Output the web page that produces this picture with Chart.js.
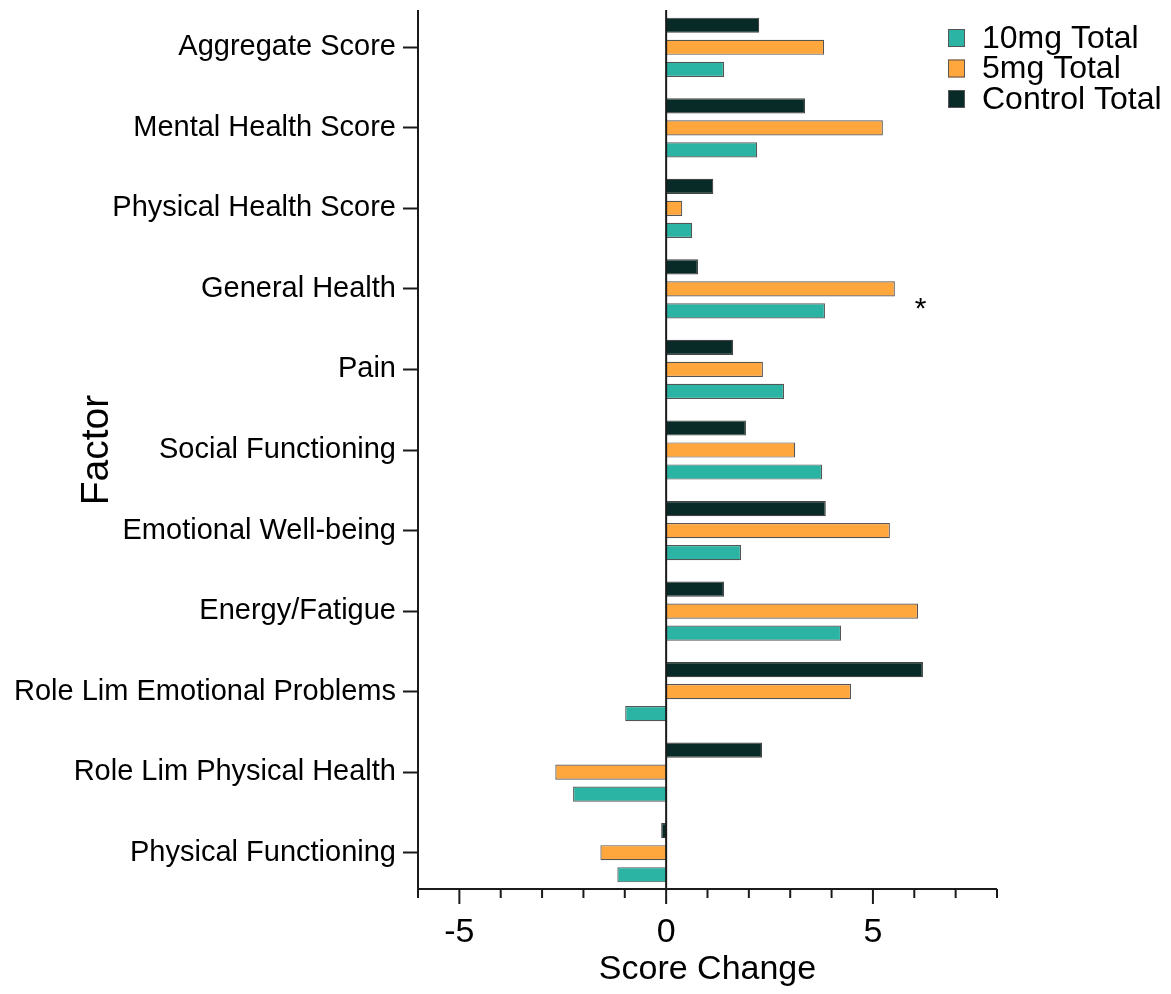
<!DOCTYPE html>
<html>
<head>
<meta charset="utf-8">
<script src="https://cdn.jsdelivr.net/npm/chart.js@4"></script>
<style>
  html, body { margin: 0; padding: 0; background: #fff; }
  #wrap { width: 1171px; height: 994px; }
</style>
</head>
<body>
<div id="wrap"><canvas id="myChart"></canvas></div>
<script>
const factors = ['Aggregate Score', 'Mental Health Score', 'Physical Health Score', 'General Health', 'Pain',
  'Social Functioning', 'Emotional Well-being', 'Energy/Fatigue', 'Role Lim Emotional Problems',
  'Role Lim Physical Health', 'Physical Functioning'];
const controlTotal = [2.25, 3.36, 1.14, 0.77, 1.62, 1.93, 3.86, 1.40, 6.21, 2.32, -0.12];
const total5mg = [3.82, 5.24, 0.39, 5.53, 2.34, 3.12, 5.41, 6.09, 4.47, -2.68, -1.59];
const total10mg = [1.40, 2.20, 0.63, 3.84, 2.85, 3.77, 1.81, 4.23, -0.99, -2.25, -1.18];
const xTickLabels = [-5, 0, 5];
const starFactor = 'General Health';
const starValue = 6.15;

const font = 'Liberation Sans, Arial, sans-serif';

// axis lines, ticks, zero line, legend and the asterisk
const extras = {
  id: 'extras',
  afterDraw(chart) {
    const ctx = chart.ctx;
    const x = chart.scales.x, y = chart.scales.y;
    const area = chart.chartArea;
    const axisY = area.bottom - 4;
    ctx.save();
    ctx.strokeStyle = '#1a1a1a';
    ctx.lineWidth = 2;
    // y axis line and x axis line
    ctx.beginPath();
    ctx.moveTo(area.left, area.top + 3);
    ctx.lineTo(area.left, axisY + 9);
    ctx.moveTo(area.left, axisY);
    ctx.lineTo(area.right, axisY);
    ctx.stroke();
    // zero line
    ctx.beginPath();
    ctx.moveTo(x.getPixelForValue(0), area.top + 3);
    ctx.lineTo(x.getPixelForValue(0), axisY);
    ctx.stroke();
    // x tick marks
    for (let v = x.min; v <= x.max; v++) {
      const px = x.getPixelForValue(v);
      const len = xTickLabels.includes(v) ? 15 : 9;
      ctx.beginPath();
      ctx.moveTo(px, axisY);
      ctx.lineTo(px, axisY + len);
      ctx.stroke();
    }
    // legend (reverse dataset order)
    const items = chart.data.datasets.slice().reverse();
    ctx.font = '32px ' + font;
    ctx.textBaseline = 'middle';
    items.forEach(function (ds, i) {
      const ly = 38 + i * 30.5;
      ctx.fillStyle = ds.backgroundColor;
      ctx.fillRect(948, ly - 9, 17, 18);
      ctx.lineWidth = 1;
      ctx.strokeStyle = '#555';
      ctx.strokeRect(948.5, ly - 8.5, 16, 17);
      ctx.fillStyle = '#000';
      ctx.fillText(ds.label, 982, ly + 1);
    });
    // asterisk
    ctx.font = '30px ' + font;
    ctx.textAlign = 'center';
    ctx.fillText('*', x.getPixelForValue(starValue), y.getPixelForValue(factors.indexOf(starFactor)) + 21);
    ctx.restore();
  }
};

const drawChart = function () {
  const ctx = document.getElementById('myChart').getContext('2d');
  new Chart(ctx, {
    type: 'bar',
    data: {
      labels: factors,
      datasets: [
        { label: 'Control Total', data: controlTotal, backgroundColor: '#082b28', borderColor: '#444' },
        { label: '5mg Total', data: total5mg, backgroundColor: '#ffa63d', borderColor: '#555' },
        { label: '10mg Total', data: total10mg, backgroundColor: '#2bb3a3', borderColor: '#555' },
      ],
    },
    options: {
      indexAxis: 'y',
      responsive: true,
      maintainAspectRatio: false,
      animation: false,
      datasets: {
        bar: { borderWidth: 1.2, categoryPercentage: 0.82, barPercentage: 0.69 },
      },
      layout: { padding: { top: 7, right: 174, left: 0, bottom: 0 } },
      plugins: { legend: { display: false }, tooltip: { enabled: false } },
      scales: {
        x: {
          min: -6,
          max: 8,
          afterFit: function (scale) { scale.height = 101; scale.paddingLeft = 0; scale.paddingRight = 0; },
          border: { display: false },
          grid: { display: false, drawTicks: false },
          afterBuildTicks: function (scale) {
            scale.ticks = xTickLabels.map(function (v) { return { value: v }; });
          },
          ticks: { color: '#000', padding: 19, font: { family: font, size: 34 } },
          title: { display: true, text: 'Score Change', color: '#000', padding: { top: 0, bottom: 4 }, font: { family: font, size: 34 } },
        },
        y: {
          afterFit: function (scale) { scale.width = 418; scale.paddingTop = 0; scale.paddingBottom = 0; },
          border: { display: false },
          grid: { drawOnChartArea: false, offset: false, tickLength: 15, tickColor: '#1a1a1a', tickWidth: 2 },
          ticks: { color: '#000', padding: 7, font: { family: font, size: 29 } },
          title: { display: true, text: 'Factor', color: '#000', padding: { top: 74, bottom: 0 }, font: { family: font, size: 39 } },
        },
      },
    },
    plugins: [extras],
  });
};

document.addEventListener('DOMContentLoaded', function () {
  drawChart();
});
</script>
</body>
</html>
